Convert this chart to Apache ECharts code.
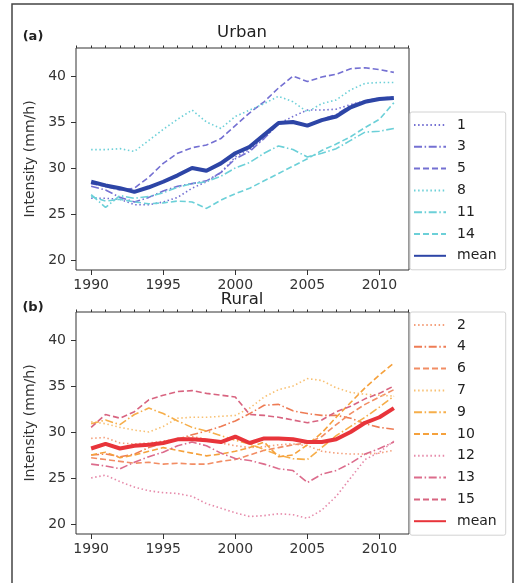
<!DOCTYPE html>
<html>
<head>
<meta charset="utf-8">
<script src="https://cdn.jsdelivr.net/npm/echarts@6/dist/echarts.min.js"></script>
<style>
  html, body { margin: 0; padding: 0; background: #fff; }
  #chart { width: 517px; height: 583px; }
</style>
</head>
<body>
<div id="chart"></div>
<script>
// Years on the x axis
const years = [1990, 1991, 1992, 1993, 1994, 1995, 1996, 1997, 1998, 1999, 2000,
               2001, 2002, 2003, 2004, 2005, 2006, 2007, 2008, 2009, 2010, 2011];
const majorYears = [1990, 1995, 2000, 2005, 2010];
const minorYears = [1989, 1990, 1991, 1992, 1993, 1994, 1995, 1996, 1997, 1998, 1999, 2000,
                    2001, 2002, 2003, 2004, 2005, 2006, 2007, 2008, 2009, 2010, 2011, 2012];
const yTicks = [20, 25, 30, 35, 40];

// Urban stations (mm/h)
const u1  = [26.7, 26.7, 26.6, 26.0, 26.0, 26.3, 26.8, 27.8, 28.5, 29.5, 31.2, 32.0, 33.3, 34.8, 35.6, 36.3, 36.3, 36.4, 36.9, 37.3, 37.6, 37.6];
const u3  = [28.0, 27.6, 26.8, 26.3, 26.8, 27.5, 28.0, 28.3, 28.6, 29.5, 31.0, 31.8, 33.2, 34.8, 35.1, 34.5, 35.3, 35.8, 36.8, 37.3, 37.6, 37.7];
const u5  = [28.3, 28.0, 27.6, 27.8, 29.0, 30.5, 31.6, 32.2, 32.5, 33.2, 34.6, 36.0, 37.2, 38.7, 40.0, 39.4, 39.9, 40.2, 40.8, 40.9, 40.7, 40.4];
const u8  = [32.0, 32.0, 32.1, 31.8, 33.0, 34.2, 35.3, 36.3, 35.0, 34.3, 35.6, 36.3, 37.0, 37.8, 37.2, 36.1, 37.0, 37.4, 38.5, 39.2, 39.3, 39.3];
const u11 = [27.1, 25.7, 27.0, 26.7, 26.9, 27.3, 27.9, 28.3, 28.5, 29.1, 30.0, 30.6, 31.6, 32.4, 32.0, 31.2, 31.6, 32.1, 33.0, 33.9, 34.0, 34.3];
const u14 = [26.9, 26.4, 26.6, 26.3, 26.1, 26.2, 26.4, 26.3, 25.6, 26.5, 27.2, 27.8, 28.6, 29.4, 30.2, 31.0, 31.9, 32.6, 33.4, 34.4, 35.3, 37.1];
const uMean = [28.5, 28.1, 27.8, 27.4, 27.9, 28.5, 29.2, 30.0, 29.7, 30.5, 31.6, 32.3, 33.6, 34.9, 35.0, 34.6, 35.2, 35.6, 36.6, 37.2, 37.5, 37.6];

// Rural stations (mm/h)
const r2  = [29.3, 29.4, 28.8, 28.7, 28.8, 29.0, 29.2, 29.5, 29.2, 28.8, 28.5, 28.3, 28.4, 28.6, 28.7, 28.5, 27.9, 27.7, 27.6, 27.6, 27.7, 28.0];
const r4  = [27.5, 27.6, 27.3, 27.6, 28.3, 28.8, 29.2, 29.7, 30.1, 30.6, 31.2, 32.0, 32.9, 33.0, 32.3, 32.0, 31.8, 31.8, 31.5, 30.9, 30.5, 30.3];
const r6  = [27.2, 27.0, 26.8, 26.6, 26.7, 26.5, 26.6, 26.5, 26.5, 26.8, 27.0, 27.5, 28.0, 28.3, 28.6, 28.8, 29.5, 30.8, 32.0, 33.0, 33.8, 34.6];
const r7  = [31.1, 30.9, 30.5, 30.2, 30.0, 30.6, 31.5, 31.6, 31.6, 31.7, 31.8, 32.6, 33.8, 34.6, 35.0, 35.8, 35.6, 34.8, 34.3, 34.1, 34.0, 33.9];
const r9  = [30.9, 31.3, 30.8, 31.9, 32.6, 32.0, 31.2, 30.5, 30.1, 29.6, 29.1, 28.7, 28.1, 27.5, 27.1, 27.0, 28.3, 29.6, 30.6, 31.6, 32.7, 33.9];
const r10 = [27.5, 27.8, 27.2, 27.5, 27.9, 28.3, 28.0, 27.7, 27.4, 27.6, 27.9, 28.3, 28.9, 27.3, 27.5, 28.6, 29.9, 31.6, 33.2, 34.8, 36.2, 37.5];
const r12 = [25.0, 25.3, 24.6, 24.0, 23.6, 23.4, 23.3, 23.0, 22.2, 21.7, 21.2, 20.8, 20.9, 21.1, 21.0, 20.6, 21.5, 23.0, 25.0, 27.0, 27.8, 29.0];
const r13 = [26.5, 26.3, 26.0, 26.7, 27.3, 27.8, 28.5, 28.9, 28.5, 27.7, 27.1, 26.9, 26.5, 26.0, 25.8, 24.5, 25.4, 25.8, 26.6, 27.6, 28.2, 28.9];
const r15 = [30.5, 31.9, 31.5, 32.2, 33.5, 34.0, 34.4, 34.5, 34.2, 34.0, 33.8, 31.9, 31.8, 31.6, 31.3, 31.0, 31.3, 32.2, 32.8, 33.6, 34.2, 35.0];
const rMean = [28.2, 28.7, 28.2, 28.5, 28.6, 28.8, 29.2, 29.2, 29.1, 28.9, 29.5, 28.8, 29.3, 29.3, 29.2, 28.9, 28.9, 29.2, 30.0, 31.0, 31.6, 32.6];

const FONT = 'DejaVu Sans';
const DOT = [1.5, 2.6];
const DASH = [6, 3];
const DASHDOT = [8, 2.6, 1.5, 2.6];

function pairs(vals) { return years.map((y, i) => [y, vals[i]]); }

function line(name, vals, color, type, grid, width) {
  return {
    name: name, type: 'line', xAxisIndex: grid * 2, yAxisIndex: grid,
    data: pairs(vals), symbol: 'none', smooth: false, animation: false,
    lineStyle: { color: color, width: width || 1.6, type: type },
    itemStyle: { color: color },
    z: width ? 5 : 2
  };
}

const PURPLE = '#7470d2', CYAN = '#6cd0d8', UBLUE = '#2d45a6';
const C2 = '#f4a07c', C4 = '#ee7c55', C6 = '#f28d64';
const C7 = '#f8c072', C9 = '#f6ae4a', C10 = '#f5a13c';
const C12 = '#e68aaa', C13 = '#dc6c8c', C15 = '#d86480', RRED = '#e8343a';

const series = [
  line('1', u1, PURPLE, DOT, 0),
  line('3', u3, PURPLE, DASHDOT, 0),
  line('5', u5, PURPLE, DASH, 0),
  line('8', u8, CYAN, DOT, 0),
  line('11', u11, CYAN, DASHDOT, 0),
  line('14', u14, CYAN, DASH, 0),
  line('Urban mean', uMean, UBLUE, 'solid', 0, 4),
  line('2', r2, C2, DOT, 1),
  line('4', r4, C4, DASHDOT, 1),
  line('6', r6, C6, DASH, 1),
  line('7', r7, C7, DOT, 1),
  line('9', r9, C9, DASHDOT, 1),
  line('10', r10, C10, DASH, 1),
  line('12', r12, C12, DOT, 1),
  line('13', r13, C13, DASHDOT, 1),
  line('15', r15, C15, DASH, 1),
  line('Rural mean', rMean, RRED, 'solid', 1, 4)
];

const grids = [
  { left: 76, top: 48, width: 333, height: 222 },
  { left: 76, top: 312, width: 333, height: 222 }
];

const xAxes = [], yAxes = [];
grids.forEach((g, gi) => {
  xAxes.push({
    type: 'value', gridIndex: gi, min: 1988.95, max: 2012.05,
    axisLine: { show: false }, splitLine: { show: false },
    axisTick: { show: true, customValues: majorYears, length: 5, lineStyle: { color: '#333', width: 1 } },
    axisLabel: { customValues: majorYears, formatter: v => String(v), color: '#333', fontSize: 14, fontFamily: FONT, margin: 8 }
  });
  xAxes.push({
    type: 'value', gridIndex: gi, min: 1988.95, max: 2012.05,
    axisLine: { show: false }, splitLine: { show: false },
    axisTick: { show: true, customValues: minorYears, length: 2.5, lineStyle: { color: '#333', width: 1 } },
    axisLabel: { show: false }
  });
  yAxes.push({
    type: 'value', gridIndex: gi, min: 18.9, max: 43.05,
    axisLine: { show: false }, splitLine: { show: false },
    axisTick: { show: true, customValues: yTicks, length: 5, lineStyle: { color: '#333', width: 1 } },
    axisLabel: { customValues: yTicks, color: '#333', fontSize: 14, fontFamily: FONT, margin: 10 },
    name: 'Intensity (mm/h)', nameLocation: 'middle', nameGap: 39, nameRotate: 90,
    nameTextStyle: { color: '#333', fontSize: 14, fontFamily: FONT }
  });
});

function legend(names, top) {
  return {
    orient: 'vertical', left: 410, top: top,
    data: names, itemWidth: 32, itemHeight: 14, itemGap: 7.8,
    padding: [6, 9, 7, 3],
    backgroundColor: 'rgba(255,255,255,0.88)', borderColor: '#d2d2d2', borderWidth: 1, borderRadius: 2,
    itemStyle: { color: 'rgba(0,0,0,0)', borderWidth: 0, opacity: 0 },
    textStyle: { color: '#222', fontSize: 14, fontFamily: FONT, padding: [0, 0, 0, 6] },
    formatter: n => (n.endsWith('mean') ? 'mean' : n),
    selectedMode: false
  };
}

const chart = echarts.init(document.getElementById('chart'), null, { renderer: 'canvas' });
chart.setOption({
  animation: false,
  backgroundColor: '#fff',
  grid: grids.map(g => Object.assign({ show: true, borderColor: '#333', borderWidth: 1, backgroundColor: 'transparent' }, g)),
  xAxis: xAxes,
  yAxis: yAxes,
  legend: [
    legend(['1', '3', '5', '8', '11', '14', 'Urban mean'], 112),
    legend(['2', '4', '6', '7', '9', '10', '12', '13', '15', 'Rural mean'], 312)
  ],
  series: series,
  graphic: [
    { type: 'rect', shape: { x: 12, y: 4, width: 501, height: 620 }, style: { fill: 'none', stroke: '#444', lineWidth: 1.5 }, silent: true },
    { type: 'text', x: 242, y: 33, style: { text: 'Urban', fontSize: 16.5, fontFamily: FONT, fill: '#222', textAlign: 'center', textVerticalAlign: 'middle' } },
    { type: 'text', x: 242, y: 300, style: { text: 'Rural', fontSize: 16.5, fontFamily: FONT, fill: '#222', textAlign: 'center', textVerticalAlign: 'middle' } },
    { type: 'text', x: 33, y: 37, style: { text: '(a)', fontSize: 13, fontWeight: 'bold', fontFamily: FONT, fill: '#222', textAlign: 'center', textVerticalAlign: 'middle' } },
    { type: 'text', x: 33, y: 308, style: { text: '(b)', fontSize: 13, fontWeight: 'bold', fontFamily: FONT, fill: '#222', textAlign: 'center', textVerticalAlign: 'middle' } }
  ]
});
</script>
</body>
</html>
